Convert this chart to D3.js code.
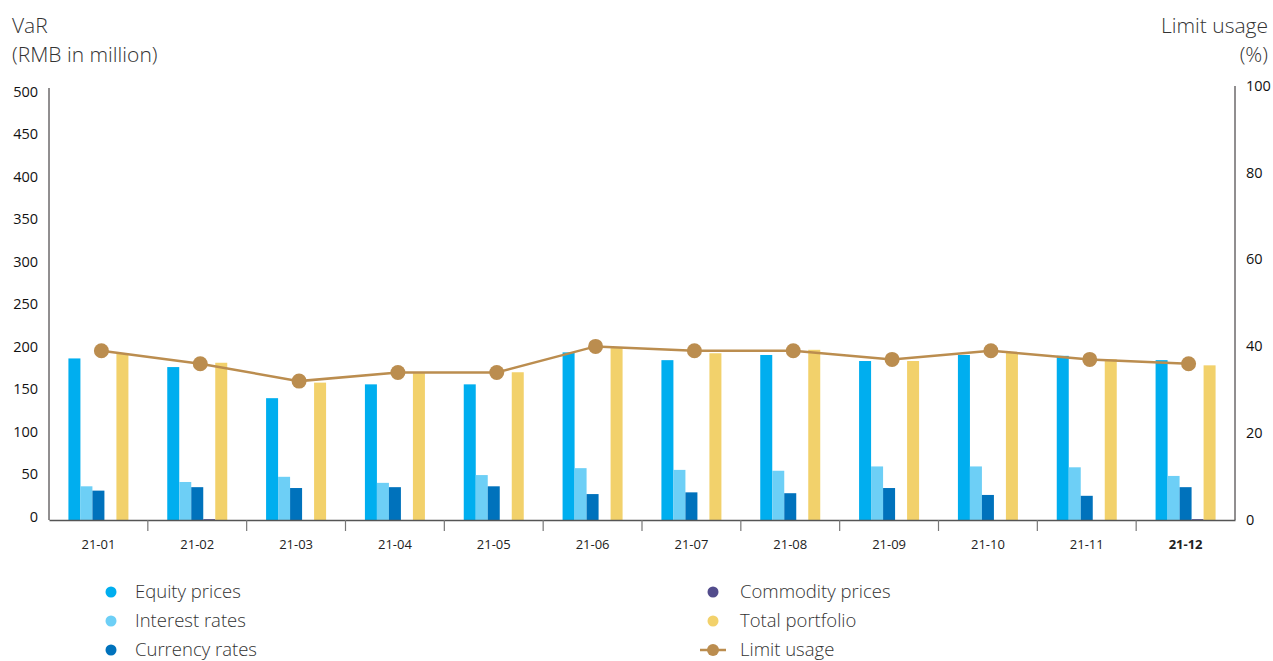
<!DOCTYPE html>
<html>
<head>
<meta charset="utf-8">
<script src="https://cdn.jsdelivr.net/npm/d3@7"></script>
<style>
  html, body { margin: 0; padding: 0; background: #fff; }
  svg { display: block; font-family: "Open Sans", "Noto Sans", sans-serif; }
</style>
</head>
<body>
<svg id="chart" width="1273" height="661"></svg>
<script>
// ---- data ----
const months = ["21-01","21-02","21-03","21-04","21-05","21-06","21-07","21-08","21-09","21-10","21-11","21-12"];
const equityPrices    = [187, 177, 141, 157, 157, 194, 185, 191, 184, 191, 190, 185];
const interestRates   = [ 39,  44,  50,  43,  52,  60,  58,  57,  62,  62,  61,  51];
const currencyRates   = [ 34,  38,  37,  38,  39,  30,  32,  31,  37,  29,  28,  38];
const commodityPrices = [  0,   1,   0,   0,   0,   0,   0,   0,   0,   0,   0,   1];
const totalPortfolio  = [193, 182, 159, 170, 171, 199, 193, 197, 184, 194, 186, 179];
const limitUsage      = [ 39,  36,  32,  34,  34,  40,  39,  39,  37,  39,  37,  36];
const leftTicks  = [0, 50, 100, 150, 200, 250, 300, 350, 400, 450, 500];
const rightTicks = [0, 20, 40, 60, 80, 100];

const seriesNames  = ["Equity prices", "Interest rates", "Currency rates", "Commodity prices", "Total portfolio"];
const seriesColors = ["#00aeef", "#6dcff6", "#0072bc", "#524c8c", "#f2d16b"];
const lineColor = "#bb8d4f";
const seriesData = [equityPrices, interestRates, currencyRates, commodityPrices, totalPortfolio];

// ---- layout ----
const svg = d3.select("#chart");
const plot = { left: 49, right: 1235, top: 88, bottom: 520 };

const x = d3.scaleBand().domain(months).range([plot.left, plot.right]).padding(0);
const xInner = d3.scaleBand().domain(seriesNames).range([0, 60]).padding(0);
const yL = d3.scaleLinear().domain([0, 500]).range([plot.bottom, plot.top]);
const yLabel = d3.scaleLinear().domain([0, 500]).range([plot.bottom - 4, plot.top + 3]);
const yR = d3.scaleLinear().domain([0, 100]).range([plot.bottom, plot.top - 2]);
const barOffset = (x.bandwidth() - 60) / 2;

// bars
const groups = svg.append("g").selectAll("g")
  .data(months).join("g")
  .attr("transform", d => `translate(${x(d) + barOffset},0)`);
groups.selectAll("rect")
  .data((m, i) => seriesNames.map((s, k) => ({ s, k, v: seriesData[k][i] })))
  .join("rect")
  .attr("x", d => xInner(d.s))
  .attr("width", xInner.bandwidth())
  .attr("y", d => yL(d.v))
  .attr("height", d => plot.bottom - yL(d.v))
  .attr("fill", d => seriesColors[d.k]);

// axes lines
svg.append("line").attr("x1", plot.left).attr("x2", plot.left)
  .attr("y1", plot.top).attr("y2", plot.bottom).attr("stroke", "#231f20").attr("stroke-width", 1);
svg.append("line").attr("x1", plot.right).attr("x2", plot.right)
  .attr("y1", plot.top - 2).attr("y2", plot.bottom).attr("stroke", "#231f20").attr("stroke-width", 1);

// bottom axis
const xAxis = svg.append("g").attr("transform", `translate(0,${plot.bottom})`)
  .call(d3.axisBottom(x).tickSize(0).tickPadding(20));
xAxis.select(".domain").attr("stroke", "#555").attr("stroke-width", 1.6);
xAxis.selectAll("text").attr("font-size", 13).attr("fill", "#222")
  .attr("font-weight", d => d === "21-12" ? "bold" : "normal")
  .attr("font-family", "'Open Sans', sans-serif");
// separators
svg.append("g").selectAll("line")
  .data(months.slice(1)).join("line")
  .attr("x1", d => x(d)).attr("x2", d => x(d))
  .attr("y1", plot.bottom).attr("y2", plot.bottom + 11)
  .attr("stroke", "#777").attr("stroke-width", 1.2);

// left ticks labels
const yAxisL = svg.append("g").attr("transform", `translate(${plot.left - 11},0)`)
  .call(d3.axisLeft(yLabel).tickValues(leftTicks).tickSize(0).tickPadding(0));
yAxisL.select(".domain").remove();
yAxisL.selectAll("text").attr("font-size", 14.5).attr("fill", "#111")
  .attr("dy", "0.35em").attr("font-family", "'Open Sans', sans-serif");

// right ticks labels
const yAxisR = svg.append("g").attr("transform", `translate(${plot.right + 11},0)`)
  .call(d3.axisRight(yR).tickValues(rightTicks).tickSize(0).tickPadding(0));
yAxisR.select(".domain").remove();
yAxisR.selectAll("text").attr("font-size", 14.5).attr("fill", "#111")
  .attr("dy", "0.3em").attr("font-family", "'Open Sans', sans-serif");

// limit usage line
const lineX = (d, i) => x(months[i]) + x.bandwidth() / 2 + 3;
svg.append("path")
  .datum(limitUsage)
  .attr("d", d3.line().x(lineX).y(d => yR(d)))
  .attr("fill", "none").attr("stroke", lineColor).attr("stroke-width", 2.5);
svg.append("g").selectAll("circle")
  .data(limitUsage).join("circle")
  .attr("cx", lineX).attr("cy", d => yR(d)).attr("r", 7.5)
  .attr("fill", lineColor);

// axis titles
const tStyle = s => s.attr("font-size", 21).attr("fill", "#333").attr("font-weight", 300);
tStyle(svg.append("text").attr("x", 12).attr("y", 33).text("VaR"));
tStyle(svg.append("text").attr("x", 12).attr("y", 62).text("(RMB in million)"));
tStyle(svg.append("text").attr("x", 1268).attr("y", 33).attr("text-anchor", "end").text("Limit usage"));
tStyle(svg.append("text").attr("x", 1268).attr("y", 62).attr("text-anchor", "end").text("(%)"));

// legend
const legendItems = [
  { name: "Equity prices", color: seriesColors[0], col: 0, row: 0 },
  { name: "Interest rates", color: seriesColors[1], col: 0, row: 1 },
  { name: "Currency rates", color: seriesColors[2], col: 0, row: 2 },
  { name: "Commodity prices", color: seriesColors[3], col: 1, row: 0 },
  { name: "Total portfolio", color: seriesColors[4], col: 1, row: 1 },
  { name: "Limit usage", color: lineColor, col: 1, row: 2, line: true }
];
const colX = [111, 713];
const textX = [135, 740];
const rowY = [592, 621, 650];
const lg = svg.append("g").selectAll("g").data(legendItems).join("g");
lg.filter(d => d.line).append("line")
  .attr("x1", d => colX[d.col] - 13).attr("x2", d => colX[d.col] + 13)
  .attr("y1", d => rowY[d.row]).attr("y2", d => rowY[d.row])
  .attr("stroke", d => d.color).attr("stroke-width", 2.5);
lg.append("circle")
  .attr("cx", d => colX[d.col]).attr("cy", d => rowY[d.row])
  .attr("r", d => d.line ? 6 : 5.5).attr("fill", d => d.color);
lg.append("text")
  .attr("x", d => textX[d.col]).attr("y", d => rowY[d.row]).attr("dy", "0.35em")
  .attr("font-size", 18.5).attr("fill", "#333").attr("font-weight", 300)
  .text(d => d.name);
</script>
</body>
</html>
